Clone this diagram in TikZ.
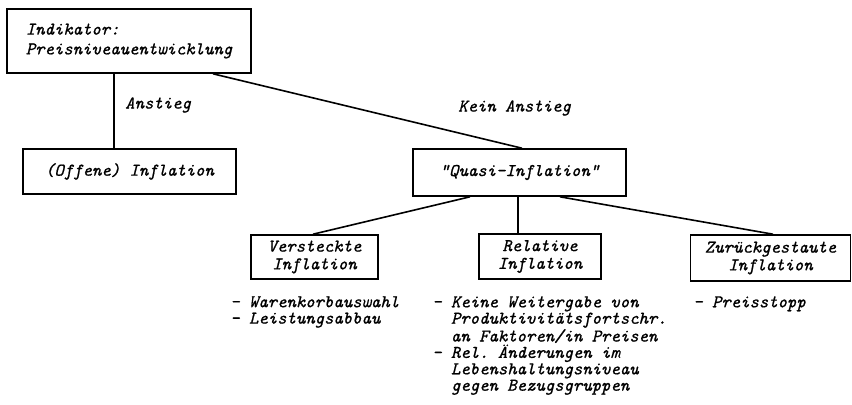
\documentclass[tikz,border=0pt]{standalone}
\usepackage{fontspec}
\setmonofont[ItalicFeatures={FakeBold=0.9}]{Latin Modern Mono}
\usetikzlibrary{calc}
\newcommand{\fnt}{\fontsize{13.4}{12.3}\selectfont\ttfamily\itshape}
\begin{document}
\begin{tikzpicture}[x=0.75pt,y=-0.75pt,
  every node/.style={font=\fnt},
  box/.style={draw,line width=1.2pt,rectangle,inner sep=0pt,align=center},
  conn/.style={line width=1.2pt},
  lbl/.style={inner sep=0pt,anchor=west},
  lst/.style={inner sep=0pt,anchor=north west,align=left,font=\fnt}]
\useasboundingbox (0,0) rectangle (852,404);
\node[box,minimum width=244*0.75pt,minimum height=64*0.75pt,align=left] (top) at (129,41)
  {Indikator:\\[2.5pt]Preisniveauentwicklung};
\node[box,minimum width=213*0.75pt,minimum height=45*0.75pt] (off) at (129.5,171.5) {(Offene) Inflation};
\node[box,minimum width=213*0.75pt,minimum height=47*0.75pt] (quasi) at (519.5,172.5) {"Quasi-Inflation"};
\node[box,minimum width=127*0.75pt,minimum height=44*0.75pt] (vers) at (314.5,257) {Versteckte\\[1pt]Inflation};
\node[box,minimum width=122*0.75pt,minimum height=45*0.75pt] (rel) at (540,256.5) {Relative\\[1pt]Inflation};
\node[box,minimum width=160*0.75pt,minimum height=46*0.75pt] (zur) at (770.5,258) {Zurückgestaute\\[1pt]Inflation};
\draw[conn] ($(top.south)+(-15,0)$) -- ($(off.north)+(-15.5,0)$);
\draw[conn] ($(top.south)+(84,0)$) -- ($(quasi.north)+(2.5,0)$);
\draw[conn] ($(quasi.south)+(-49.5,0)$) -- ($(vers.north)+(-1.5,0)$);
\draw[conn] ($(quasi.south)+(-1.5,0)$) -- ($(rel.north)+(-22,0)$);
\draw[conn] ($(quasi.south)+(40.5,0)$) -- ($(zur.north)+(2.5,0)$);
\node[lbl] (anst) at (125,105) {Anstieg};
\node[lbl] (kein) at (458,108) {Kein Anstieg};
\node[lst] (l1) at (230,296) {- Warenkorbauswahl\\- Leistungsabbau};
\node[lst] (l2) at (432,296) {- Keine Weitergabe von\\\phantom{- }Produktivitätsfortschr.\\\phantom{- }an Faktoren/in Preisen\\- Rel. Änderungen im\\\phantom{- }Lebenshaltungsniveau\\\phantom{- }gegen Bezugsgruppen};
\node[lst] (l3) at (693,296) {- Preisstopp};
\end{tikzpicture}
\end{document}
